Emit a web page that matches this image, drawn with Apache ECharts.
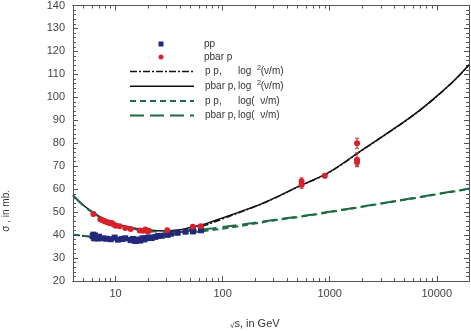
<!DOCTYPE html>
<html>
<head>
<meta charset="utf-8">
<script src="https://cdn.jsdelivr.net/npm/echarts@6/dist/echarts.min.js"></script>
<style>
html,body{margin:0;padding:0;background:#fff;}
#main{width:471px;height:331px;}
</style>
</head>
<body>
<div id="main"></div>
<script>
var ppX = [6.1,6.2,6.3,6.4,6.6,6.8,7.0,7.6,8.2,9.0,9.8,10.5,11.5,12.3,13.8,14.5,15.3,16.2,17.0,17.8,18.6,19.4,20.5,21.7,23.5,25,27,30.6,33,38,45,52.8,62.7];
var ppY = [39.5,40.2,38.6,39.8,39.0,38.5,39.3,38.6,38.4,38.2,38.9,38.0,38.3,38.6,37.8,38.3,37.4,38.0,37.6,38.6,38.1,38.7,39.0,38.7,39.2,39.6,39.7,40.1,40.6,41.0,41.5,41.6,42.1];
var ppErr = [0.8,0.8,0.7,0.7,0.6,0.6,0.6,0.5,0.5,0.5,0.5,0.5,0.5,0.5,0.6,0.6,0.6,0.6,0.6,0.5,0.5,0.5,0.4,0.4,0.3,0.3,0.3,0.3,0.3,0.3,0.3,0.3,0.3];

var pbX = [6.2,7.2,7.6,8.0,8.4,8.8,9.2,9.6,10.0,10.9,12.3,13.8,16.8,18.0,19.0,19.8,20.5,30.4,52.6,62.3,546,546,900,1800,1800,1800];
var pbY = [49.2,46.9,46.3,45.9,45.6,45.2,45.3,44.6,44.1,43.8,43.1,42.6,42.0,41.9,42.4,41.7,41.9,42.1,43.6,43.9,63.4,61.9,65.8,80.0,72.8,71.7];
var pbErr = [0.8,0.6,0.6,0.6,0.6,0.6,0.6,0.6,0.6,0.5,0.5,0.5,0.6,0.6,0.6,0.6,0.6,0.4,0.4,0.4,1.5,1.5,0.8,2.2,3.0,1.6];

// fitted curves
var fitX = [4,5,6,7,8,10,15,20,30,40,50,70,100,200,300,500,700,1000,2000,3000,5000,7000,10000,15000,20000];
var pbLog2 = [57.3,53.0,50.3,48.3,46.9,45.0,43.0,42.2,41.8,42.3,43.3,45.0,47.5,52.5,56.0,61.0,64.0,67.5,77.0,82.5,89.5,94.5,100.5,108.0,114.2];
var ppLog2 = [40.2,39.6,39.2,38.9,38.8,38.6,38.7,39.1,40.1,41.2,42.4,44.4,47.1,52.4,55.9,60.9,63.9,67.4,76.9,82.4,89.4,94.4,100.4,107.9,114.1];
var pbLog = [57.3,52.8,50.0,48.0,46.6,44.6,42.6,41.8,41.4,41.5,41.9,42.6,43.5,45.4,46.6,48.0,49.0,50.2,52.4,53.8,55.5,56.6,57.9,59.2,60.3];
var ppLog = [40.2,39.7,39.3,39.0,38.9,38.7,38.8,39.2,40.0,40.6,41.1,41.9,42.8,45.0,46.4,47.8,48.8,50.0,52.3,53.7,55.4,56.5,57.8,59.1,60.2];

var majorTicks = [10,100,1000,10000];
var minorTicks = [5,6,7,8,9,20,30,40,50,60,70,80,90,200,300,400,500,600,700,800,900,2000,3000,4000,5000,6000,7000,8000,9000];

function pairs(xs, ys) {
  return xs.map(function (x, i) { return [x, ys[i]]; });
}
function bars(xs, ys, es) {
  return xs.map(function (x, i) { return [x, ys[i] - es[i], ys[i] + es[i]]; });
}

var FONT = 'Liberation Sans, Arial, sans-serif';
var AXC = '#555';
var GREEN = '#1d6b45';
var RED = '#d7212c';
var NAVY = '#23287a';

function xAx(pos, ticks, len, labels) {
  return {
    type: 'log', logBase: 10, min: 4, max: 20000, position: pos,
    axisLine: {show: true, lineStyle: {color: AXC, width: 1}},
    axisTick: {show: true, inside: true, length: len, customValues: ticks, lineStyle: {color: AXC}},
    axisLabel: labels ? {show: true, customValues: ticks, color: '#444', fontFamily: FONT, fontSize: 11, margin: 7,
                         formatter: function (v) { return String(Math.round(v)); }} : {show: false},
    splitLine: {show: false}
  };
}
function yAx(pos, labels) {
  return {
    type: 'value', min: 20, max: 140, interval: 10, position: pos,
    axisLine: {show: true, lineStyle: {color: AXC, width: 1}},
    axisTick: {show: true, inside: true, length: 5, lineStyle: {color: AXC}},
    minorTick: {show: true, splitNumber: 5, length: 3, lineStyle: {color: AXC}},
    axisLabel: {show: labels, color: '#444', fontFamily: FONT, fontSize: 11, margin: 8},
    splitLine: {show: false}
  };
}

function errRender(color) {
  return function (params, api) {
    var lo = api.coord([api.value(0), api.value(1)]);
    var hi = api.coord([api.value(0), api.value(2)]);
    var st = {stroke: color, lineWidth: 1};
    return {
      type: 'group',
      children: [
        {type: 'line', shape: {x1: lo[0], y1: lo[1], x2: hi[0], y2: hi[1]}, style: st},
        {type: 'line', shape: {x1: lo[0] - 2, y1: lo[1], x2: lo[0] + 2, y2: lo[1]}, style: st},
        {type: 'line', shape: {x1: hi[0] - 2, y1: hi[1], x2: hi[0] + 2, y2: hi[1]}, style: st}
      ]
    };
  };
}

var legendText = {
  'pp': 'pp',
  'pbar p': 'pbar p',
  'pp log2': '{a|p p,}{t|log  }{s|2}{t|(ν/m)}',
  'pbar p log2': '{b|pbar p,}{t|log  }{s|2}{t|(ν/m)}',
  'pp log': '{a|p p,}{t|log(  ν/m)}',
  'pbar p log': '{b|pbar p,}{t|log(  ν/m)}'
};
var legendRich = {
  a: {width: 33, fontSize: 10, fontFamily: FONT, color: '#333'},
  b: {width: 33, fontSize: 10, fontFamily: FONT, color: '#333'},
  t: {fontSize: 10, fontFamily: FONT, color: '#333'},
  s: {fontSize: 7, fontFamily: FONT, color: '#333', verticalAlign: 'bottom', padding: [0, 0, 6, 0]}
};

var chart = echarts.init(document.getElementById('main'));
chart.setOption({
  backgroundColor: '#fff',
  animation: false,
  grid: {left: 73, right: 2, top: 4, bottom: 50},
  xAxis: [
    xAx('bottom', majorTicks, 5, true),
    xAx('bottom', minorTicks, 3, false),
    xAx('top', majorTicks, 5, false),
    xAx('top', minorTicks, 3, false)
  ],
  yAxis: [yAx('left', true), yAx('right', false)],
  legend: [
    {
      orient: 'vertical', left: 124, top: 33, itemWidth: 64, itemHeight: 5, itemGap: 1,
      data: [
        {name: 'pp', icon: 'path://M0,0M64,5M29.5,0h5v5h-5z'},
        {name: 'pbar p', icon: 'circle'}
      ],
      formatter: function (n) { return legendText[n]; },
      textStyle: {fontSize: 10, fontFamily: FONT, color: '#333', lineHeight: 12, padding: [0, 0, 0, 6], rich: legendRich}
    },
    {
      orient: 'vertical', left: 124, top: 60, itemWidth: 64, itemHeight: 8, itemGap: 1.7,
      itemStyle: {opacity: 0},
      data: [
        {name: 'pp log2', lineStyle: {type: [7, 2, 2, 2], width: 1.5, color: '#111'}},
        {name: 'pbar p log2', lineStyle: {type: 'solid', width: 1.5, color: '#111'}},
        {name: 'pp log', lineStyle: {type: [6, 4], width: 2, color: GREEN}},
        {name: 'pbar p log', lineStyle: {type: [14, 6], width: 2, color: GREEN}}
      ],
      formatter: function (n) { return legendText[n]; },
      textStyle: {fontSize: 10, fontFamily: FONT, color: '#333', lineHeight: 13, padding: [0, 0, 0, 6], rich: legendRich}
    }
  ],
  graphic: [
    {type: 'text', left: 1, top: 190, rotation: Math.PI / 2,
     style: {text: 'σ , in mb.', fontSize: 10, fontFamily: FONT, fill: '#333'}},
    {type: 'text', left: 230, top: 318,
     style: {text: '{r|√}s, in GeV', fontSize: 11, fontFamily: FONT, fill: '#333',
             rich: {r: {fontSize: 8, fontFamily: FONT, fill: '#333', padding: [4, 0, 0, 0]}}}}
  ],
  series: [
    {name: 'pbar p log2', type: 'line', data: pairs(fitX, pbLog2), smooth: 0.4, symbol: 'none',
     lineStyle: {color: '#111', width: 1.5}, itemStyle: {color: '#111'}, z: 3},
    {name: 'pp log2', type: 'line', data: pairs(fitX, ppLog2), smooth: 0.4, symbol: 'none',
     lineStyle: {color: '#111', width: 1.5, type: [7, 2, 2, 2]}, itemStyle: {color: '#111'}, z: 3},
    {name: 'pp log', type: 'line', data: pairs(fitX, ppLog), smooth: 0.4, symbol: 'none',
     lineStyle: {color: GREEN, width: 2, type: [6, 4]}, itemStyle: {color: GREEN}, z: 4},
    {name: 'pbar p log', type: 'line', data: pairs(fitX, pbLog), smooth: 0.4, symbol: 'none',
     lineStyle: {color: GREEN, width: 2, type: [14, 6]}, itemStyle: {color: GREEN}, z: 4},
    {name: 'pp err', type: 'custom', data: bars(ppX, ppY, ppErr), renderItem: errRender(NAVY),
     encode: {x: 0, y: [1, 2]}, z: 5},
    {name: 'pbar p err', type: 'custom', data: bars(pbX, pbY, pbErr), renderItem: errRender(RED),
     encode: {x: 0, y: [1, 2]}, z: 5},
    {name: 'pp', type: 'scatter', data: pairs(ppX, ppY), symbol: 'rect', symbolSize: 6,
     itemStyle: {color: NAVY, opacity: 1}, z: 6},
    {name: 'pbar p', type: 'scatter', data: pairs(pbX, pbY), symbol: 'circle', symbolSize: 6,
     itemStyle: {color: RED, opacity: 1}, z: 6}
  ]
});
</script>
</body>
</html>
